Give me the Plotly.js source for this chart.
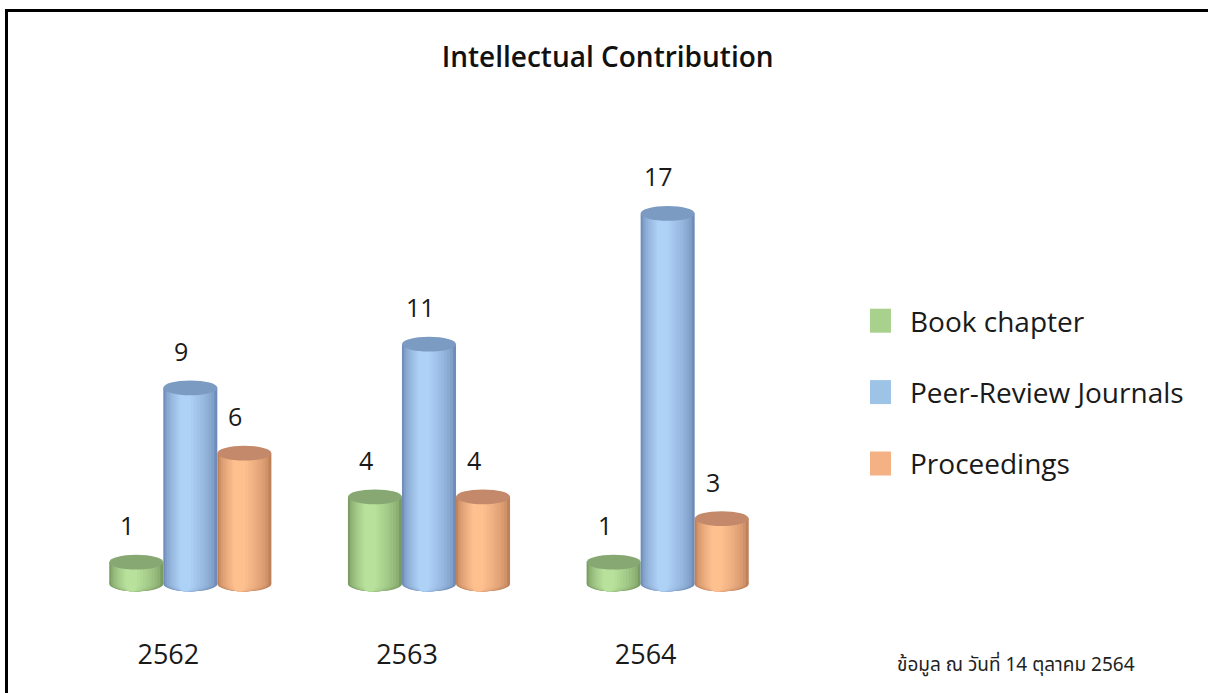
<!DOCTYPE html>
<html>
<head>
<meta charset="utf-8">
<script src="https://cdn.plot.ly/plotly-3.0.1.min.js"></script>
<style>
  html, body { margin: 0; padding: 0; background: #fff; }
  #wrap { position: relative; width: 1208px; height: 693px; overflow: hidden; }
  #chart { position: absolute; left: 0; top: 0; width: 1208px; height: 693px; }
  #frame { position: absolute; left: 5px; top: 9px; width: 1220px; height: 700px;
           border-top: 3px solid #000; border-left: 3px solid #000; pointer-events: none; }
</style>
</head>
<body>
<div id="wrap"><div id="chart"></div><div id="frame"></div></div>
<script>
// ---- data ----
const years = ["2562", "2563", "2564"];
const seriesNames = ["Book chapter", "Peer-Review Journals", "Proceedings"];
const bookChapter = [1, 4, 1];
const peerReview = [9, 11, 17];
const proceedings = [6, 4, 3];
const chartTitle = "Intellectual Contribution";
const footnote = "ข้อมูล ณ วันที่ 14 ตุลาคม 2564";

// ---- styling ----
const seriesValues = [bookChapter, peerReview, proceedings];
const legendColors = ["#a9d18e", "#9dc3e6", "#f4b183"];
const edgeColors = ["#7a9c62", "#6f8db8", "#bf815a"];
const centerColors = ["#b8e29c", "#aed1f6", "#ffc090"];
const topColors = ["#87a873", "#7b9bc3", "#c4896a"];
const W = 0.2264;            // bar width in x units
const offsets = [-W, 0, W];  // series offsets within group
const capH = 0.34;           // ellipse half-height (y units)
const K = 10;                // shading layers

function hex(c){ return [1,3,5].map(i => parseInt(c.substr(i,2),16)); }
function mix(a, b, t){
  const A = hex(a), B = hex(b);
  return "rgb(" + A.map((v,i) => Math.round(v + (B[i]-v)*t)).join(",") + ")";
}
const xs = years.map((_, i) => i);

const traces = [];
const shapesBelow = [];
const shapesTop = [];
const annotations = [];

// legend proxies
seriesNames.forEach((n, s) => {
  traces.push({type: "bar", name: n, x: [null], y: [null], marker: {color: legendColors[s]},
               showlegend: true, hoverinfo: "skip", legendgroup: "g" + s});
});

seriesValues.forEach((vals, s) => {
  for (let j = 0; j < K; j++) {
    const t = j / (K - 1);
    const wj = W * (1 - 0.88 * j / K);
    const shift = -0.10 * W * j / K;
    const col = mix(edgeColors[s], centerColors[s], Math.pow(t, 0.6));
    const xpos = xs.map(g => g + offsets[s] + shift);
    traces.push({type: "bar", x: xpos, y: vals, width: wj, base: 0,
                 marker: {color: col, line: {width: 0}}, showlegend: false, hoverinfo: "skip"});
    xpos.forEach((xc) => {
      shapesBelow.push({type: "circle", xref: "x", yref: "y", layer: "below",
        x0: xc - wj/2, x1: xc + wj/2, y0: -capH, y1: capH,
        fillcolor: col, line: {width: 0}});
    });
  }
  vals.forEach((v, g) => {
    const xc = g + offsets[s];
    shapesTop.push({type: "circle", xref: "x", yref: "y",
      x0: xc - W/2, x1: xc + W/2, y0: v - capH, y1: v + capH,
      fillcolor: topColors[s], line: {width: 0}});
    annotations.push({xref: "x", yref: "y", x: xc, y: v, text: String(v), showarrow: false,
      xshift: -9, yshift: 37, font: {family: "Open Sans, sans-serif", size: 25, color: "#1a1a1a"}});
  });
});

// plot area geometry
const L = 71, R = 787, T = 150, B = 600;
function px2paperX(px){ return (px - L) / (R - L); }
function px2paperY(py){ return (B - py) / (B - T); }

annotations.push({xref: "paper", yref: "paper", x: px2paperX(1016), y: px2paperY(665),
  text: footnote, showarrow: false, xanchor: "center", yanchor: "middle",
  font: {family: "'Noto Sans Thai', 'Noto Sans', sans-serif", size: 19, color: "#222"}});

const pxPerUnit = 21.8;
const layout = {
  width: 1208, height: 693,
  margin: {l: L, r: 1208 - R, t: T, b: 693 - B},
  paper_bgcolor: "rgba(0,0,0,0)", plot_bgcolor: "rgba(0,0,0,0)",
  barmode: "overlay",
  title: {text: chartTitle, x: 0.503, xref: "container", y: 1 - 57/693, yref: "container",
          xanchor: "center", yanchor: "middle",
          font: {family: "Open Sans, sans-serif", size: 28, weight: 600, color: "#111"}},
  xaxis: {range: [-0.5, 2.5], tickvals: xs, ticktext: years, showgrid: false, zeroline: false,
          showline: false, ticks: "", ticklabelshift: -22, ticklabelstandoff: 36,
          tickfont: {family: "Open Sans, sans-serif", size: 27, color: "#1a1a1a"}, fixedrange: true},
  yaxis: {range: [-(B - 584)/pxPerUnit, (584 - T)/pxPerUnit], showgrid: false, zeroline: false,
          showline: false, showticklabels: false, ticks: "", fixedrange: true},
  legend: {xref: "container", yref: "container", x: 870/1208, y: 1 - 296/693,
           xanchor: "left", yanchor: "top", tracegroupgap: 32,
           font: {family: "Open Sans, sans-serif", size: 28, color: "#1a1a1a"},
           bgcolor: "rgba(0,0,0,0)"},
  shapes: shapesBelow.concat(shapesTop),
  annotations: annotations,
  showlegend: true
};

Plotly.newPlot("chart", traces, layout, {displayModeBar: false, staticPlot: true}).then(() => {
  document.querySelectorAll("#chart .legend .legendpoints path").forEach(p => {
    p.setAttribute("d", "M21,12H-3V-12H21Z");
    p.removeAttribute("transform");
  });
});
</script>
</body>
</html>
